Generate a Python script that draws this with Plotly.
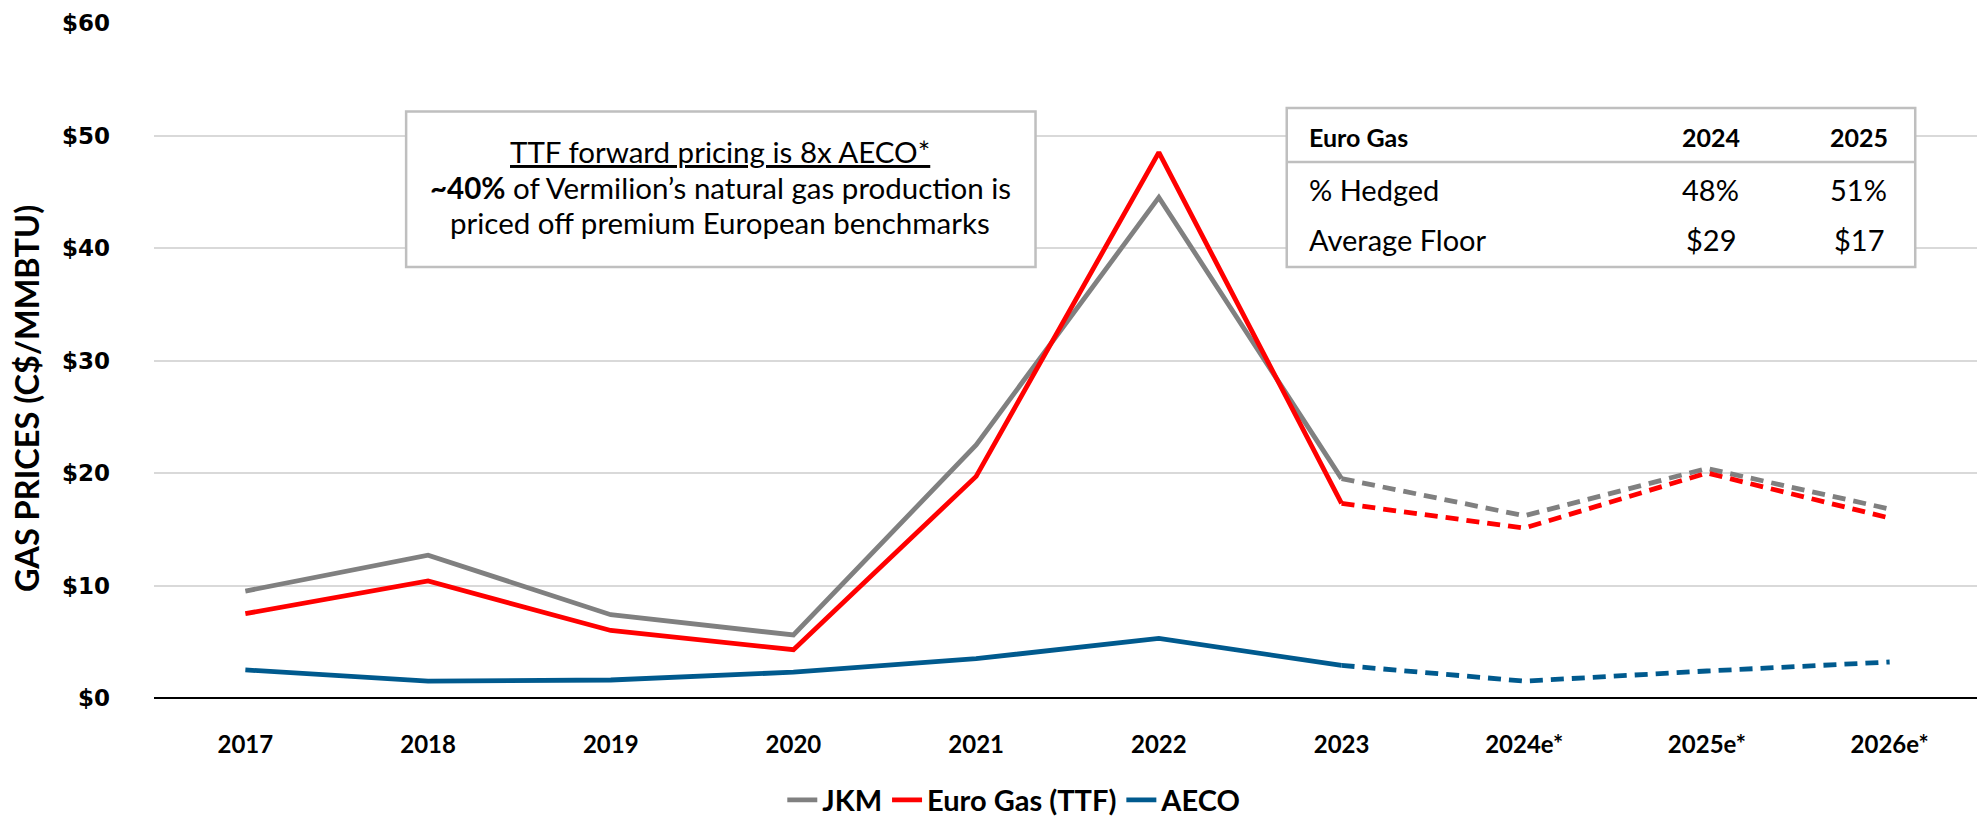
import plotly.graph_objects as go

categories = ["2017", "2018", "2019", "2020", "2021", "2022", "2023", "2024e*", "2025e*", "2026e*"]
jkm = [9.5, 12.7, 7.4, 5.6, 22.5, 44.5, 19.5, 16.2, 20.4, 16.8]
ttf = [7.5, 10.4, 6.0, 4.3, 19.7, 48.5, 17.3, 15.1, 20.0, 16.0]
aeco = [2.5, 1.5, 1.6, 2.3, 3.5, 5.3, 2.9, 1.5, 2.4, 3.2]
n_actual = 7  # 2017..2023 are actuals, rest forecast

y_ticks = [0, 10, 20, 30, 40, 50, 60]
y_tick_text = ["$0", "$10", "$20", "$30", "$40", "$50", "$60"]

table_header = ["Euro Gas", "2024", "2025"]
table_rows = [["% Hedged", "48%", "51%"], ["Average Floor", "$29", "$17"]]

series = [("JKM", jkm, "#808080"), ("Euro Gas (TTF)", ttf, "#FF0000"), ("AECO", aeco, "#005A8E")]

FONT = "Lato, 'Open Sans', sans-serif"

fig = go.Figure()
for name, vals, col in series:
    fig.add_trace(go.Scatter(
        x=categories[:n_actual], y=vals[:n_actual], mode="lines", name=name,
        line=dict(color=col, width=4.8), legendgroup=name))
    fig.add_trace(go.Scatter(
        x=categories[n_actual - 1:], y=vals[n_actual - 1:], mode="lines", name=name,
        line=dict(color=col, width=4.8, dash="13px,8px"), legendgroup=name, showlegend=False))

fig.update_layout(
    width=1977, height=808,
    margin=dict(l=146, r=4, t=15, b=118, autoexpand=False),
    paper_bgcolor="white", plot_bgcolor="white",
    font=dict(family=FONT, color="black"),
    showlegend=True,
    legend=dict(orientation="h", xref="container", yref="container",
                x=0.509, xanchor="center", y=0.0198, yanchor="middle",
                font=dict(family=FONT, size=29, color="black", weight="bold"),
                tracegroupgap=0, traceorder="normal"),
    xaxis=dict(type="category", range=[-0.5, 9.5], showgrid=False, showline=False,
               zeroline=False, ticks="", ticklabelstandoff=30, automargin=False,
               tickfont=dict(family=FONT, size=24, color="black", weight="bold")),
    yaxis=dict(range=[0, 60], tickvals=y_ticks, ticktext=y_tick_text,
               showgrid=True, gridcolor="#D9D9D9", gridwidth=1.5,
               zeroline=True, zerolinecolor="black", zerolinewidth=2,
               showline=False, ticks="", ticklabelstandoff=43, automargin=False,
               tickfont=dict(family="'DejaVu Sans', Verdana, sans-serif", size=23, color="black", weight="bold")),
)

# Y-axis title
fig.add_annotation(text="<b>GAS PRICES (C$/MMBTU)</b>", xref="paper", yref="paper",
                   x=-0.0695, y=0.443, textangle=-90, showarrow=False,
                   xanchor="center", yanchor="middle", font=dict(family=FONT, size=32.5, color="black"))

# Annotation box
fig.add_shape(type="rect", xref="paper", yref="paper", x0=0.138, x1=0.4825, y0=0.6384, y1=0.869,
              line=dict(color="#BFBFBF", width=2.5), fillcolor="white", layer="above")
box_lines = ["<u>TTF forward pricing is 8x AECO*</u>",
             "<b>~40%</b> of Vermilion\u2019s natural gas production is",
             "priced off premium European benchmarks"]
for t, yy in zip(box_lines, [0.809, 0.757, 0.704]):
    fig.add_annotation(text=t, xref="paper", yref="paper", x=0.310, y=yy, showarrow=False,
                       xanchor="center", yanchor="middle", font=dict(family=FONT, size=29.5, color="black"))

# Table box
fig.add_shape(type="rect", xref="paper", yref="paper", x0=0.620, x1=0.964, y0=0.6384, y1=0.874,
              line=dict(color="#BFBFBF", width=2.5), fillcolor="white", layer="above")
fig.add_shape(type="line", xref="paper", yref="paper", x0=0.620, x1=0.964, y0=0.794, y1=0.794,
              line=dict(color="#BFBFBF", width=2.5), layer="above")
col_x = [0.631, 0.852, 0.933]
col_anchor = ["left", "center", "center"]
for j, t in enumerate(table_header):
    fig.add_annotation(text=f"<b>{t}</b>", xref="paper", yref="paper", x=col_x[j], y=0.831,
                       xanchor=col_anchor[j], yanchor="middle", showarrow=False,
                       font=dict(family=FONT, size=25, color="black"))
for r, yy in zip(table_rows, [0.753, 0.679]):
    for j, t in enumerate(r):
        fig.add_annotation(text=t, xref="paper", yref="paper", x=col_x[j], y=yy,
                           xanchor=col_anchor[j], yanchor="middle", showarrow=False,
                           font=dict(family=FONT, size=29, color="black"))

fig.write_html("out.html")
